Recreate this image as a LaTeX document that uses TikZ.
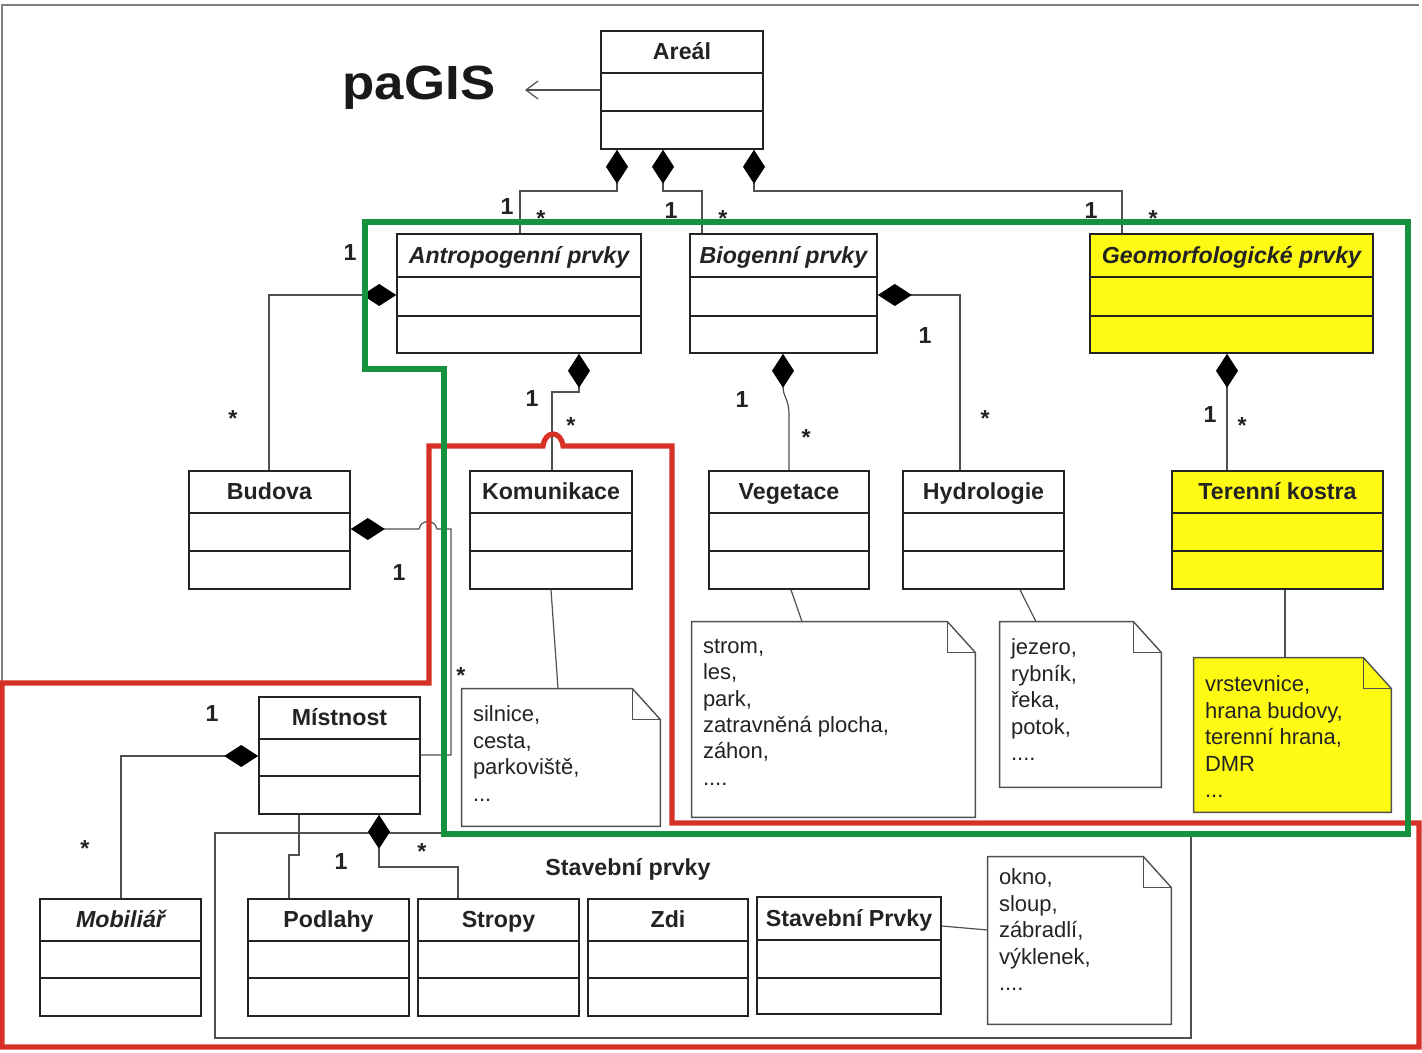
\documentclass[tikz,border=0pt]{standalone}
\usepackage{fontspec}
\usepackage{graphicx}
\setmainfont{Liberation Sans}
\usetikzlibrary{arrows.meta,fit,calc}
\definecolor{frameg}{RGB}{22,146,62}
\definecolor{framer}{RGB}{214,48,39}
\definecolor{uyellow}{RGB}{255,250,20}
\definecolor{ink}{RGB}{35,35,35}
\definecolor{lineg}{RGB}{80,80,80}

\tikzset{
  clsbox/.style={draw=ink, line width=0.8pt, inner sep=0pt},
  divider/.style={draw=ink, line width=0.8pt},
  ctitle/.style={font=\bfseries\fontsize{11.6}{13}\selectfont, text=ink, inner sep=0pt, text height=8.3pt, text depth=0pt},
  ititle/.style={ctitle, font=\bfseries\itshape\fontsize{11.6}{13}\selectfont},
  conn/.style={draw=lineg, line width=0.6pt},
  comp/.style={conn, arrows={Diamond[length=17pt,width=11pt,fill=black,color=black]-}},
  mult/.style={font=\bfseries\fontsize{11.6}{13}\selectfont, text=ink, inner sep=0pt, text height=8.3pt, text depth=0pt},
  multstar/.style={mult, yshift=-2.5pt},
  notebox/.style={inner sep=0pt},
  notepath/.style={draw=lineg, line width=0.7pt},
  notetext/.style={font=\fontsize{11}{13.2}\selectfont, text=ink, align=left, anchor=north west, inner sep=0pt},
  region/.style={line width=2.6pt, line join=miter},
}

\newcommand\umlcls[8]{%
  \node[clsbox,#6,fit={(#2) (#3)}] (#1) {};
  \draw[divider] (#1.west |- 0,#4) -- (#1.east |- 0,#4);
  \draw[divider] (#1.west |- 0,#5) -- (#1.east |- 0,#5);
  \node[#7] (#1-t) at ($(#1.north)!0.5!(#1.north |- 0,#4)$) {#8};
}
\newcommand\umlnote[6]{%
  \node[notebox, fit={(#2) (#3)}] (#1) {};
  \filldraw[notepath, fill=#4] (#1.north west) -- ([xshift=-14pt]#1.north east) -- ([yshift=-15.5pt]#1.north east) -- (#1.south east) -- (#1.south west) -- cycle;
  \draw[notepath] ([xshift=-14pt]#1.north east) -- ([xshift=-14pt,yshift=-15.5pt]#1.north east) -- ([yshift=-15.5pt]#1.north east);
  \node[notetext] (#1-txt) at ([xshift=5.5pt,yshift=-#5pt]#1.north west) {#6};
}

\begin{document}
\begin{tikzpicture}[x=0.5pt, y=-0.5pt]
\useasboundingbox (0,0) rectangle (1422,1053);
\fill[white] (0,0) rectangle (1422,1053);
% outer frame
\draw[gray, line width=0.8pt] (2,1047) -- (2,5) -- (1419,5);

% title
\node[inner sep=0pt, font=\bfseries\fontsize{24}{28}\selectfont, text=black!90] (pagis) at (419,88) {\scalebox{1.1}[1]{paGIS}};

% package frame
\node[draw=lineg, line width=0.6pt, inner sep=0pt, fit={(215,833) (1191,1038)}] (pkg) {};
\node[ctitle] (pkg-t) at (628,867) {Stavební prvky};

% classes
\umlcls{areal}{601,31}{763,149}{73}{111}{}{ctitle}{Areál}
\umlcls{antro}{397,234}{641,353}{277}{316}{}{ititle}{Antropogenní prvky}
\umlcls{bio}{690,234}{877,353}{277}{316}{}{ititle}{Biogenní prvky}
\umlcls{geo}{1090,234}{1373,353}{277}{316}{fill=uyellow}{ititle}{Geomorfologické prvky}
\umlcls{budova}{189,471}{350,589}{513}{551}{}{ctitle}{Budova}
\umlcls{komun}{470,471}{632,589}{513}{551}{}{ctitle}{Komunikace}
\umlcls{veget}{709,471}{869,589}{513}{551}{}{ctitle}{Vegetace}
\umlcls{hydro}{903,471}{1064,589}{513}{551}{}{ctitle}{Hydrologie}
\umlcls{teren}{1172,471}{1383,589}{513}{551}{fill=uyellow}{ctitle}{Terenní kostra}
\umlcls{mist}{259,697}{420,814}{739}{776}{}{ctitle}{Místnost}
\umlcls{mobil}{40,899}{201,1016}{941}{978}{}{ititle}{Mobiliář}
\umlcls{podl}{248,899}{409,1016}{941}{978}{}{ctitle}{Podlahy}
\umlcls{strop}{418,899}{579,1016}{941}{978}{}{ctitle}{Stropy}
\umlcls{zdi}{588,899}{748,1016}{941}{978}{}{ctitle}{Zdi}
\umlcls{stavp}{757,897}{941,1014}{940}{978}{}{ctitle}{Stavební Prvky}

% notes
\umlnote{nkom}{462,689}{660,826}{white}{8.5}{silnice,\\cesta,\\parkoviště,\\...}
\umlnote{nveg}{692,622}{975,817}{white}{8.5}{strom,\\les,\\park,\\zatravněná plocha,\\záhon,\\....}
\umlnote{nhyd}{1000,622}{1161,787}{white}{8.5}{jezero,\\rybník,\\řeka,\\potok,\\....}
\umlnote{nter}{1194,658}{1391,812}{uyellow}{9}{vrstevnice,\\hrana budovy,\\terenní hrana,\\DMR\\...}
\umlnote{nstav}{988,857}{1171,1024}{white}{6}{okno,\\sloup,\\zábradlí,\\výklenek,\\....}

% connectors
\draw[conn, -{Straight Barb[length=6pt,width=9pt]}] (areal.west |- 0,90) -- (525,90);
\draw[comp] (areal.south -| 617,0) -- (617,191) -- (520,191) -- (antro.north -| 520,0);
\draw[comp] (areal.south -| 663,0) -- (663,191) -- (702,191) -- (bio.north -| 702,0);
\draw[comp] (areal.south -| 754,0) -- (754,191) -- (1122,191) -- (geo.north -| 1122,0);
\draw[comp] (antro.west |- 0,295) -- (269,295) -- (budova.north -| 269,0);
\draw[comp] (antro.south -| 579,0) -- (579,392) -- (552,392) -- (komun.north -| 552,0);
\draw[comp] (bio.south -| 783,0) -- (783,386) .. controls (783,398) and (789,398) .. (789,415) -- (veget.north);
\draw[comp] (bio.east |- 0,295) -- (960,295) -- (hydro.north -| 960,0);
\draw[comp] (geo.south -| 1227,0) -- (teren.north -| 1227,0);
\draw[comp] (budova.east |- 0,529) -- (419,529) .. controls (421,519) and (435,519) .. (437,529) -- (451,529) -- (451,755) -- (mist.east |- 0,755);
\draw[comp] (mist.west |- 0,756) -- (121,756) -- (mobil.north -| 121,0);
\draw[comp] (mist.south -| 379,0) -- (379,867) -- (458,867) -- (strop.north -| 458,0);
\draw[conn] (mist.south -| 299,0) -- (299,855) -- (289,855) -- (podl.north -| 289,0);
\draw[conn] (komun.south) -- (nkom.north -| 558,0);
\draw[conn] (veget.south -| 791,0) -- (nveg.north -| 802,0);
\draw[conn] (hydro.south -| 1020,0) -- (nhyd.north -| 1036,0);
\draw[conn] (teren.south -| 1285,0) -- (nter.north -| 1285,0);
\draw[conn] (stavp.east |- 0,926) -- (nstav.west |- 0,930);

% multiplicities
\node[mult] (m1) at (507,206) {1};
\node[multstar] (s1) at (541,213) {*};
\node[mult] (m2) at (671,210) {1};
\node[multstar] (s2) at (723,213) {*};
\node[mult] (m3) at (1091,210) {1};
\node[multstar] (s3) at (1153,213) {*};
\node[mult] (m4) at (350,252) {1};
\node[multstar] (s4) at (233,413) {*};
\node[mult] (m5) at (532,398) {1};
\node[multstar] (s5) at (571,420) {*};
\node[mult] (m6) at (742,399) {1};
\node[multstar] (s6) at (806,432) {*};
\node[mult] (m7) at (925,335) {1};
\node[multstar] (s7) at (985,413) {*};
\node[mult] (m8) at (1210,414) {1};
\node[multstar] (s8) at (1242,420) {*};
\node[mult] (m9) at (399,572) {1};
\node[multstar] (s9) at (461,670) {*};
\node[mult] (m10) at (212,713) {1};
\node[multstar] (s10) at (85,843) {*};
\node[mult] (m11) at (341,861) {1};
\node[multstar] (s11) at (422,846) {*};

% regions
\draw[region, framer] (2,683) -- (429,683) -- (429,446) -- (543,446) .. controls (545,430) and (561,430) .. (563,446) -- (672,446) -- (672,823) -- (1419,823) -- (1419,1047) -- (2,1047) -- cycle;
\draw[region, frameg] (365,222) -- (1408,222) -- (1408,834) -- (444,834) -- (444,369) -- (365,369) -- cycle;
\end{tikzpicture}
\end{document}
